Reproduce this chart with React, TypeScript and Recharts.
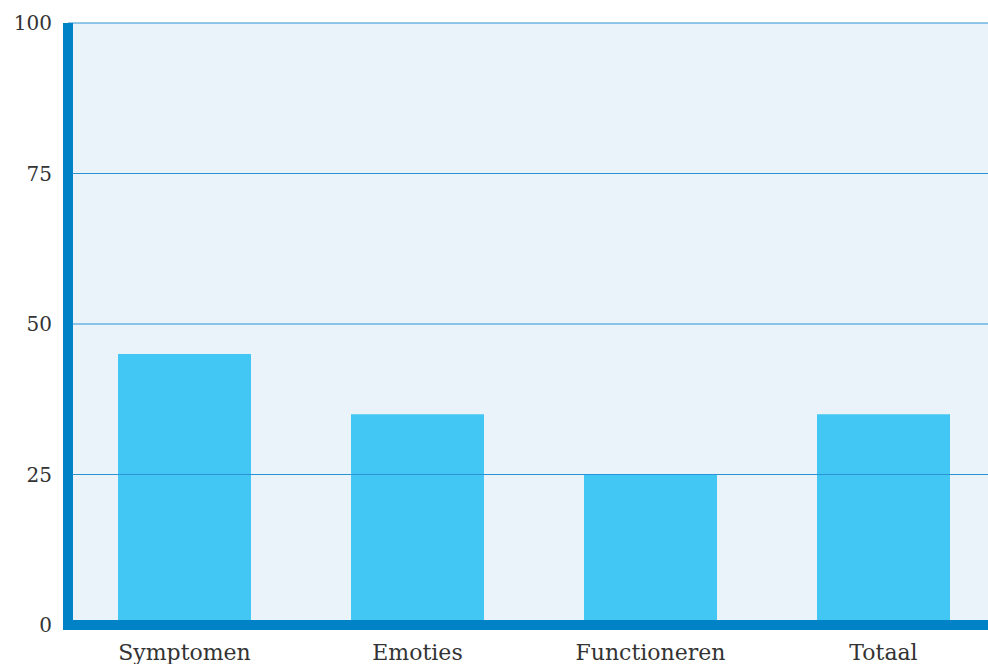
import React from 'react';
import { BarChart, Bar, XAxis, YAxis, CartesianGrid, ReferenceLine } from 'recharts';

const categories = ['Symptomen', 'Emoties', 'Functioneren', 'Totaal'];
const scores = [45, 35, 25, 35];
const yTicks = [0, 25, 50, 75, 100];
const gridLevels = [25, 50, 75, 100];

const data = categories.map((name, i) => ({ name, score: scores[i] }));

const FONT = '"DejaVu Serif", serif';

export default function App() {
  return (
    <div style={{ position: 'fixed', left: 0, top: 0, width: 988, height: 664, overflow: 'hidden', background: '#fff' }}>
      <BarChart
        width={1000}
        height={664}
        data={data}
        margin={{ top: 23, right: 0, bottom: 0, left: 0 }}
      >
        <CartesianGrid horizontal={false} vertical={false} fill="#EAF2FA" stroke="none" />
        <XAxis
          dataKey="name"
          height={39}
          tickLine={false}
          tickSize={0}
          tickMargin={19}
          axisLine={{ stroke: '#0082C6', strokeWidth: 10, strokeLinecap: 'square' }}
          tick={{ fill: '#333', fontSize: 22, fontFamily: FONT }}
        />
        <YAxis
          width={68}
          domain={[0, 100]}
          ticks={yTicks}
          tickLine={false}
          tickSize={0}
          tickMargin={16}
          axisLine={{ stroke: '#0082C6', strokeWidth: 10 }}
          tick={{ fill: '#333', fontSize: 20, fontFamily: FONT }}
        />
        <Bar dataKey="score" fill="#42C7F4" barSize={133} isAnimationActive={false} />
        {gridLevels.map((v) => (
          <ReferenceLine key={v} y={v} stroke="#2A93D5" strokeWidth={1} />
        ))}
      </BarChart>
    </div>
  );
}
